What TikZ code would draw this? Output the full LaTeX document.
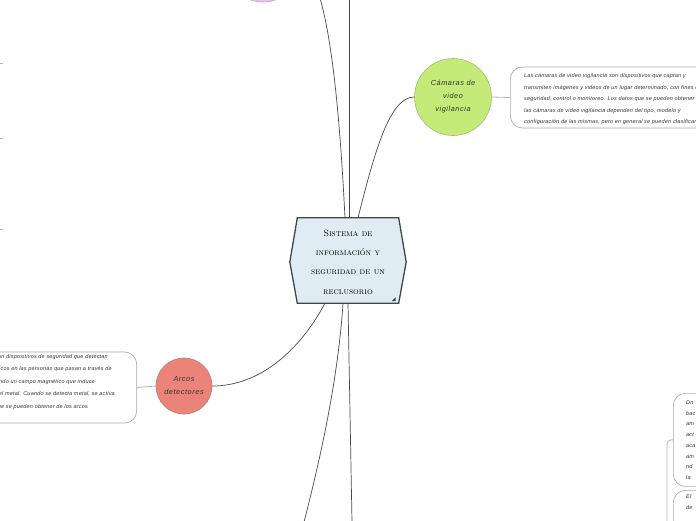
\documentclass[tikz,border=0pt]{standalone}
\usepackage{fontspec}
\newfontfamily\bubfont[LetterSpace=8]{Liberation Sans}
\newfontfamily\bodyfont[LetterSpace=3.6]{Liberation Sans}
\usetikzlibrary{calc}
\definecolor{centfill}{HTML}{DFECF3}
\definecolor{centline}{HTML}{3E474C}
\definecolor{camfill}{HTML}{C4EB77}
\definecolor{camline}{HTML}{A3BC72}
\definecolor{arcfill}{HTML}{EB8378}
\definecolor{arcline}{HTML}{B08078}
\definecolor{pinkfill}{HTML}{F2BDEE}
\definecolor{pinkline}{HTML}{C9A2C5}
\definecolor{conncol}{HTML}{4A4A4A}
\definecolor{lightcol}{HTML}{B4B4B4}
\definecolor{boxcol}{HTML}{AAAAAA}
\definecolor{textcol}{HTML}{333333}
\begin{document}
\begin{tikzpicture}[x=1pt,y=-1pt,
  conn/.style={draw=conncol, line width=0.7pt},
  lconn/.style={draw=lightcol, line width=0.8pt},
  tbox/.style={draw=boxcol, line width=0.7pt, rounded corners=12pt, fill=white, inner sep=0pt},
  bubble/.style={circle, inner sep=0pt, line width=0.6pt, align=center, text=textcol,
    font=\bubfont\itshape\fontsize{7.3}{13}\selectfont},
  btext/.style={font=\bodyfont\itshape\fontsize{5.5}{6}\selectfont, text=textcol, inner sep=0pt, anchor=base west}]
\useasboundingbox (0,0) rectangle (696,520);
\clip (0,0) rectangle (696,520);
\fill[white] (0,0) rectangle (696,520);

% central node
\node[minimum width=101pt, minimum height=85pt, inner sep=0pt] (center) at (348,260.5) {};
\draw[fill=centfill, draw=centline, line width=1.3pt, line join=miter]
  (center.north west) -- (center.north east) -- ($(center.east)+(7.5,1.5)$)
  -- (center.south east) -- (center.south west) -- ($(center.west)+(-7.5,1.5)$) -- cycle;
\fill[centline] ($(center.south east)+(-7,-2)$) -- ++(4,0) -- ++(0,-4) -- cycle;
\node[font=\fontsize{9}{19.4}\selectfont\scshape, align=center, text=black, inner sep=0pt] (title) at (348,262)
  {Sistema de\\información y\\seguridad de un\\reclusorio};

% bubbles
\node[bubble, fill=pinkfill, draw=pinkline, minimum size=76pt] (pink) at (263,-36) {};
\node[bubble, fill=camfill, draw=camline, minimum size=77pt] (cam) at (453,97) {Cámaras de\\video\\vigilancia};
\node[bubble, fill=arcfill, draw=arcline, minimum size=56pt] (arcos) at (184,386) {Arcos\\detectores};

% free ends
\coordinate (topend) at (349,-2);
\coordinate (botend) at (352,522);
\coordinate (botend2) at (304,522);
\coordinate (brk) at (667,530);

% main connectors
\draw[conn] ([xshift=-3pt]center.north) .. controls (340,120) and (330,-20) .. (pink.east);
\draw[conn, line width=0.8pt] ([xshift=1pt]center.north) -- (topend);
\draw[conn] ([xshift=10pt]center.north) .. controls (375,150) and (390,97) .. (cam.west);
\draw[conn] ([xshift=-23pt]center.south) .. controls (300,350) and (260,386) .. (arcos.east);
\draw[conn] (center.south) -- (botend);
\draw[conn] ([xshift=-5pt]center.south) .. controls (338,380) and (320,460) .. (botend2);

% camera text box
\node[tbox, minimum width=260pt, minimum height=61pt, anchor=west] (cambox) at (510,97.5) {};
\draw[lconn] (cam.east) -- (cambox.west);
\foreach \i/\yy/\t in {
  1/77.5/{Las cámaras de video vigilancia son dispositivos que captan y},
  2/89/{transmiten imágenes y videos de un lugar determinado, con fines de},
  3/100.5/{seguridad, control o monitoreo. Los datos que se pueden obtener de},
  4/112/{las cámaras de video vigilancia dependen del tipo, modelo y},
  5/123.5/{configuración de las mismas, pero en general se pueden clasificar en}}
  \node[btext] (cl\i) at (524,\yy) {\t};

% arcos text box
\node[tbox, minimum width=250pt, minimum height=71pt, anchor=east] (arcbox) at (137,387.5) {};
\draw[lconn] (arcbox.east) -- (arcos.west);
\foreach \i/\xx/\yy/\t in {
  1/108/358/{Los arcos detectores de metales son dispositivos de seguridad que detectan},
  2/112/370.5/{objetos metálicos en las personas que pasan a través de},
  3/95/383/{ellos, generando un campo magnético que induce},
  4/115/395.5/{una corriente en el metal. Cuando se detecta metal, se activa},
  5/88/408/{una alarma. Los datos que se pueden obtener de los arcos}}
  \node[btext, anchor=base east] (al\i) at (\xx,\yy) {\t};

% right bottom boxes
\node[tbox, minimum width=60pt, minimum height=93pt, anchor=north west] (rbox1) at (673,393) {};
\node[tbox, minimum width=60pt, minimum height=60pt, anchor=north west] (rbox2) at (673,490) {};
\draw[lconn, rounded corners=4pt] (brk) |- (rbox1.west);
\foreach \i/\yy/\t in {1/404.5/Dn, 2/415.2/bac, 3/425.9/am, 4/436.6/act, 5/447.3/aca, 6/458/am, 7/468.7/nd, 8/479.5/la}
  \node[btext] (rl\i) at (686,\yy) {\t};
\node[btext] (rm1) at (686,498.5) {El};
\node[btext] (rm2) at (686,509.5) {de};

% left stubs
\coordinate (s1a) at (-4,63);  \coordinate (s1b) at (3,63);
\coordinate (s2a) at (-4,138); \coordinate (s2b) at (3,138);
\coordinate (s3a) at (-4,229); \coordinate (s3b) at (3,229);
\draw[lconn] (s1a) -- (s1b);
\draw[lconn] (s2a) -- (s2b);
\draw[lconn] (s3a) -- (s3b);
\end{tikzpicture}
\end{document}
